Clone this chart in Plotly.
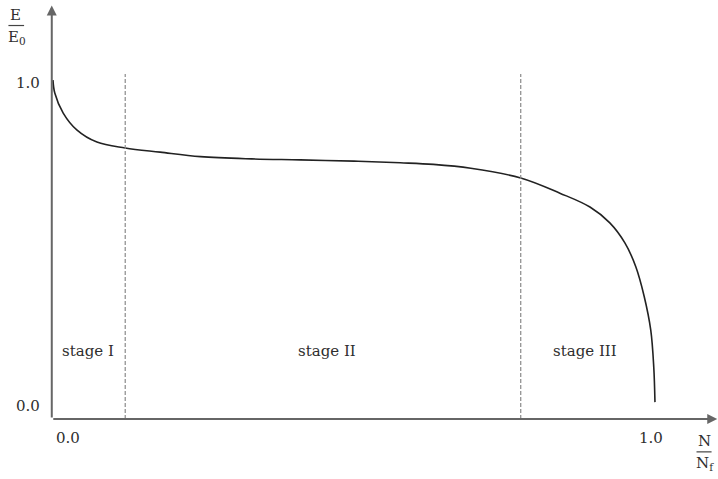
import plotly.graph_objects as go

# ---- data ----
curve_x = [0.0, 0.003, 0.017, 0.040, 0.073, 0.120, 0.178, 0.245, 0.330, 0.411, 0.500,
           0.577, 0.632, 0.694, 0.777, 0.842, 0.892, 0.925, 0.950, 0.968, 0.982,
           0.993, 0.998, 1.0]
curve_y = [1.009, 0.969, 0.907, 0.854, 0.817, 0.799, 0.786, 0.772, 0.765, 0.762, 0.758,
           0.753, 0.748, 0.736, 0.706, 0.659, 0.616, 0.567, 0.505, 0.432, 0.340,
           0.235, 0.120, 0.012]
stage_bounds = [0.12, 0.777]
stage_labels = ["stage I", "stage II", "stage III"]
stage_label_x = [0.058, 0.455, 0.884]
stage_label_y = 0.17
x_ticks = [0.0, 1.0]
x_tick_labels = ["0.0", "1.0"]
y_ticks = [0.0, 1.0]
y_tick_labels = ["0.0", "1.0"]

X0, X1 = -0.088, 1.1047
Y0, Y1 = -0.226, 1.257
AXIS_Y = -0.040
AXIS_X = -0.002
FONT = "DejaVu Serif"
TXT = "#2e2e2e"
FS = 15

fig = go.Figure()
fig.add_trace(go.Scatter(x=curve_x, y=curve_y, mode="lines",
                         line=dict(color="#222222", width=1.6, shape="spline", smoothing=1.0),
                         hoverinfo="skip", showlegend=False))

shapes = []
for b in stage_bounds:
    shapes.append(dict(type="line", xref="x", yref="y", x0=b, x1=b, y0=AXIS_Y, y1=1.028,
                       line=dict(color="#8a8a8a", width=1.2, dash="4px,2px")))
# fraction bars
shapes.append(dict(type="line", xref="x", yref="y", x0=-0.074, x1=-0.048, y0=1.178, y1=1.178,
                   line=dict(color="#444444", width=1.2)))
shapes.append(dict(type="line", xref="x", yref="y", x0=1.069, x1=1.094, y0=-0.142, y1=-0.142,
                   line=dict(color="#444444", width=1.2)))

anns = []
# axes with arrows
anns.append(dict(x=1.1035, y=AXIS_Y, ax=AXIS_X, ay=AXIS_Y, xref="x", yref="y", axref="x", ayref="y",
                 showarrow=True, arrowhead=2, arrowsize=1.0, arrowwidth=2, arrowcolor="#666666", text=""))
anns.append(dict(x=AXIS_X, y=1.24, ax=AXIS_X, ay=AXIS_Y, xref="x", yref="y", axref="x", ayref="y",
                 showarrow=True, arrowhead=2, arrowsize=1.0, arrowwidth=2, arrowcolor="#666666", text=""))

for t, lab, xp in zip(x_ticks, x_tick_labels, [0.025, 0.993]):
    anns.append(dict(x=xp, y=-0.099, xref="x", yref="y", text=lab, showarrow=False,
                     font=dict(family=FONT, size=FS, color=TXT)))
for t, lab in zip(y_ticks, y_tick_labels):
    anns.append(dict(x=-0.041, y=t, xref="x", yref="y", text=lab, showarrow=False,
                     font=dict(family=FONT, size=FS, color=TXT)))

for lab, xp in zip(stage_labels, stage_label_x):
    anns.append(dict(x=xp, y=stage_label_y, xref="x", yref="y", text=lab, showarrow=False,
                     font=dict(family=FONT, size=FS, color=TXT)))

anns.append(dict(x=-0.0615, y=1.212, xref="x", yref="y", text="E", showarrow=False,
                 font=dict(family=FONT, size=FS, color=TXT)))
anns.append(dict(x=-0.0595, y=1.140, xref="x", yref="y", text="E<sub>0</sub>", showarrow=False,
                 font=dict(family=FONT, size=FS, color=TXT)))
anns.append(dict(x=1.0815, y=-0.108, xref="x", yref="y", text="N", showarrow=False,
                 font=dict(family=FONT, size=FS, color=TXT)))
anns.append(dict(x=1.0835, y=-0.178, xref="x", yref="y", text="N<sub>f</sub>", showarrow=False,
                 font=dict(family=FONT, size=FS, color=TXT)))

fig.update_layout(
    width=718, height=479,
    margin=dict(l=0, r=0, t=0, b=0),
    paper_bgcolor="white", plot_bgcolor="white",
    xaxis=dict(range=[X0, X1], visible=False, fixedrange=True),
    yaxis=dict(range=[Y0, Y1], visible=False, fixedrange=True),
    shapes=shapes, annotations=anns, showlegend=False,
)
fig.write_html("out.html", config={"displayModeBar": False},
               post_script="document.body.style.margin='0';document.body.style.overflow='hidden';")
